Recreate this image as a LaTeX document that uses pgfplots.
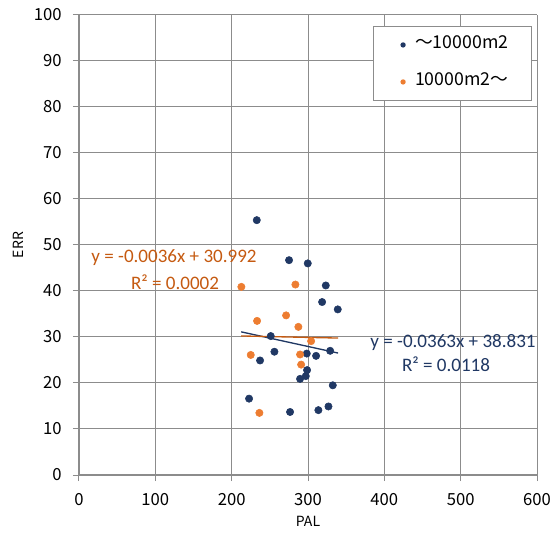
\documentclass[border=0pt]{standalone}
\usepackage{fontspec}
\setmainfont{Noto Sans CJK JP}
\newfontfamily\calibri{Carlito}
\usepackage{pgfplots}
\pgfplotsset{compat=1.18}
\definecolor{navy}{HTML}{203864}
\definecolor{orng}{HTML}{ED7D31}
\definecolor{brn}{HTML}{C55A11}
\definecolor{gridc}{HTML}{8C8C8C}
\begin{document}
\begin{tikzpicture}
\path[use as bounding box] (-59.25pt,-45pt) rectangle (355.5pt,356.25pt);
\begin{axis}[
  name=ax,
  at={(0,0)}, anchor=south west,
  scale only axis,
  width=343.5pt, height=345pt,
  xmin=0, xmax=600, ymin=0, ymax=100,
  xtick={0,100,...,600}, ytick={0,10,...,100},
  grid=major,
  major grid style={gridc, line width=0.75pt},
  axis line style={gridc, line width=0.9pt},
  axis x line*=bottom, axis y line*=left,
  tick style={gridc, line width=0.75pt},
  major tick length=4.5pt,
  tick align=outside,
  /pgf/number format/assume math mode=true,
  tick label style={font=\fontsize{12.5}{14}\selectfont},
  xticklabel style={yshift=-6pt},
  yticklabel style={xshift=-5pt},
  xlabel={PAL}, ylabel={ERR},
  label style={font=\fontsize{10.5}{12}\selectfont},
  xlabel style={at={(axis description cs:0.5,0)}, anchor=center, yshift=-34.5pt},
  ylabel style={at={(axis description cs:0,0.5)}, anchor=center},
  every axis y label/.append style={at={(axis description cs:0,0.5)}, yshift=45.75pt},
  clip=false,
  legend style={at={(0.641,0.976)}, anchor=north west, draw=gridc, line width=0.75pt,
    font=\fontsize{13.3}{15}\selectfont, inner xsep=0pt, inner ysep=7.8pt,
    row sep=15.75pt, column sep=0pt,
    nodes={inner xsep=0pt, inner ysep=0pt, text height=9pt, text depth=3pt, text width=87.5pt}},
  legend cell align=left,
  legend image code/.code={\path[draw=none, fill=none] (0pt,0pt) -- (31.5pt,0pt); \fill[#1, draw=none] (22.5pt,0pt) circle (2pt);},
]
\addplot[only marks, mark=*, mark size=2.75pt, mark options={fill=navy, draw=navy}, forget plot] coordinates {
(232.9,55.4) (275.2,46.7) (299.7,46.0) (323.3,41.2) (318.5,37.6) (339,36.0)
(251.2,30.2) (256,26.8) (237.2,24.9) (298.4,26.4) (310.6,25.9) (329,27.0)
(298.8,22.8) (297.1,21.5) (289.6,20.9) (332.5,19.5) (222.8,16.6) (276.5,13.7)
(313.6,14.1) (326.8,14.9)
};
\addplot[only marks, mark=*, mark size=2.75pt, mark options={fill=orng, draw=orng}, forget plot] coordinates {
(212.7,40.9) (283.5,41.4) (233.3,33.5) (271.3,34.7) (287.4,32.2) (304.1,29.1)
(225,26.1) (289.6,26.2) (291,24.0) (236.3,13.5)
};
\addplot[navy, line width=1pt, forget plot] coordinates {(212.5,31.117) (339.4,26.51)};
\addplot[brn, line width=1pt, forget plot] coordinates {(212.5,30.227) (339.4,29.77)};
\addlegendimage{navy, fill=navy}
\addlegendentry{〜10000m2}
\addlegendimage{orng, fill=orng}
\addlegendentry{10000m2〜}
\node[brn, font=\calibri\fontsize{14.3}{16}\selectfont] at (axis cs:124.5,47.2) {y = -0.0036x + 30.992};
\node[brn, font=\calibri\fontsize{14.3}{16}\selectfont] at (axis cs:125.8,42.0) {R² = 0.0002};
\node[navy, font=\calibri\fontsize{14.3}{16}\selectfont] at (axis cs:490,28.7) {y = -0.0363x + 38.831};
\node[navy, font=\calibri\fontsize{14.3}{16}\selectfont] at (axis cs:480.8,24.1) {R² = 0.0118};
\end{axis}
\end{tikzpicture}
\end{document}
